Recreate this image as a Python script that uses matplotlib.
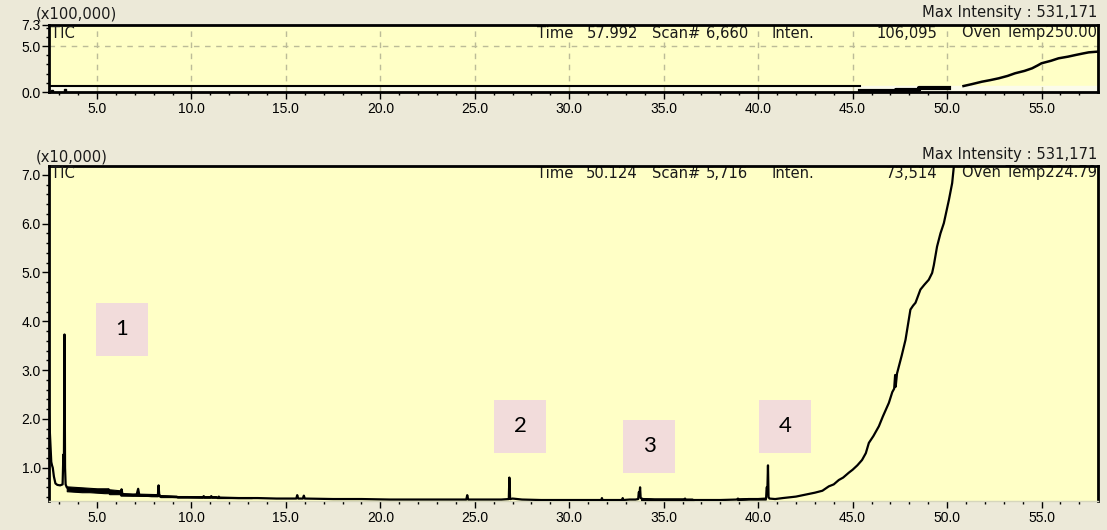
import matplotlib.pyplot as plt
from matplotlib.patches import Rectangle
from matplotlib.ticker import MultipleLocator, FixedLocator

plt.rcParams['font.family'] = ['Liberation Sans', 'DejaVu Sans']

W, H = 1107, 530

# TIC trace, retention time (min) vs intensity (x10,000)
main_time = [
    2.46, 2.52, 2.58, 2.62, 2.66, 2.72, 2.80, 2.90, 3.05, 3.18, 3.22, 3.25, 3.28, 3.31, 3.34, 3.40,
    3.50, 3.70, 3.90, 4.10, 4.30, 4.50, 4.70, 4.90, 5.10, 5.30, 5.50,
    5.60, 5.70, 5.85, 6.00, 6.15, 6.25, 6.30, 6.35, 6.60, 6.90, 7.10, 7.18, 7.24, 7.50, 7.90, 8.22,
    8.26, 8.30, 8.70, 9.20, 9.80, 10.60, 10.65, 10.70, 11.00, 11.05, 11.10, 11.40, 11.45, 11.50,
    12.50, 13.50, 14.50, 15.55, 15.60, 15.65, 15.90, 15.95, 16.00, 17.50, 19.00, 20.50, 22.00,
    23.50, 24.55, 24.60, 24.65, 25.50, 26.40, 26.80, 26.83, 26.87, 27.00, 27.50, 28.50, 29.50,
    30.50, 31.70, 31.73, 31.76, 32.80, 32.83, 32.86, 33.20, 33.50, 33.65, 33.68, 33.72, 33.75,
    33.78, 33.90, 34.50, 35.50, 36.10, 36.13, 36.16, 37.00, 38.00, 38.90, 38.93, 38.96, 39.50,
    40.00, 40.42, 40.45, 40.49, 40.52, 40.55, 40.60, 40.90, 41.30, 42.00, 42.50, 43.00, 43.40,
    43.74, 44.00, 44.27, 44.50, 44.80, 45.00, 45.25, 45.50, 45.70, 45.86, 46.10, 46.39, 46.60,
    46.92, 47.10, 47.20, 47.25, 47.28, 47.35, 47.60, 47.80, 48.06, 48.20, 48.33, 48.59, 48.80,
    49.03, 49.21, 49.30, 49.47, 49.65, 49.83, 50.10, 50.27, 50.36, 50.42,
]
main_inten = [
    2.10, 1.60, 1.12, 1.05, 1.00, 0.82, 0.68, 0.65, 0.64, 0.66, 1.27, 1.10, 3.73, 1.00, 0.66, 0.60,
    0.57, 0.56, 0.55, 0.55, 0.54, 0.54, 0.53, 0.53, 0.52, 0.52, 0.51,
    0.55, 0.50, 0.51, 0.49, 0.50, 0.47, 0.56, 0.46, 0.45, 0.44, 0.45, 0.57, 0.44, 0.43, 0.42, 0.42,
    0.64, 0.42, 0.41, 0.40, 0.40, 0.39, 0.42, 0.39, 0.39, 0.42, 0.39, 0.39, 0.41, 0.39,
    0.38, 0.38, 0.37, 0.37, 0.44, 0.37, 0.37, 0.43, 0.37, 0.36, 0.36, 0.35, 0.35,
    0.35, 0.35, 0.44, 0.35, 0.35, 0.35, 0.36, 0.80, 0.36, 0.37, 0.35, 0.34, 0.34,
    0.34, 0.34, 0.38, 0.34, 0.34, 0.38, 0.34, 0.35, 0.35, 0.36, 0.50, 0.48, 0.60,
    0.38, 0.36, 0.35, 0.35, 0.35, 0.37, 0.34, 0.34, 0.34, 0.35, 0.37, 0.35, 0.36,
    0.36, 0.37, 0.60, 0.58, 1.05, 0.40, 0.37, 0.36, 0.38, 0.41, 0.45, 0.49, 0.53,
    0.62, 0.66, 0.75, 0.80, 0.90, 0.96, 1.05, 1.16, 1.30, 1.51, 1.65, 1.85, 2.05,
    2.33, 2.55, 2.62, 2.90, 2.66, 2.93, 3.30, 3.62, 4.24, 4.32, 4.38, 4.65, 4.75,
    4.85, 4.99, 5.15, 5.53, 5.80, 6.01, 6.49, 6.83, 7.17, 7.40,
]

# noise envelope of the baseline (x10,000)
noise_time = [3.40, 3.80, 4.20, 4.60, 5.00, 5.40, 5.60, 5.65, 6.20, 6.25, 8.30, 8.35, 9.2,
              9.25, 11.3, 11.35, 13.2]
noise_low = [0.52, 0.51, 0.50, 0.50, 0.49, 0.48, 0.48, 0.46, 0.46, 0.43, 0.42, 0.40, 0.40,
             0.39, 0.39, 0.38, 0.38]
noise_high = [0.62, 0.61, 0.60, 0.59, 0.58, 0.58, 0.58, 0.56, 0.54, 0.48, 0.46, 0.44, 0.43,
              0.42, 0.42, 0.40, 0.40]
noise2_time = [33.8, 34.5, 35.5, 36.5, 36.6]
noise2_low = [0.34, 0.34, 0.34, 0.34, 0.34]
noise2_high = [0.38, 0.37, 0.37, 0.37, 0.35]
noise3_time = [38.9, 39.5, 40.3, 40.4]
noise3_low = [0.34, 0.35, 0.35, 0.35]
noise3_high = [0.37, 0.38, 0.38, 0.37]

# overview trace (x100,000)
ov_flat_time = [2.46, 45.4]
ov_flat_inten = [0.65, 0.65]
ov_step_time = [45.4, 47.3, 47.3, 48.5, 48.5, 50.1]
ov_step_inten = [0.15, 0.15, 0.25, 0.25, 0.48, 0.48]
ov_rise_time = [50.87, 51.3, 51.84, 52.3, 52.73, 53.2, 53.6, 54.1, 54.5, 54.8, 55.0, 55.5,
                55.9, 56.4, 56.8, 57.2, 57.5, 57.99]
ov_rise_inten = [0.65, 0.85, 1.12, 1.30, 1.49, 1.75, 2.04, 2.30, 2.58, 2.90, 3.13, 3.40,
                 3.67, 3.85, 4.03, 4.20, 4.32, 4.40]
ov_dot_time = [2.6, 3.3]
ov_dot_inten = [0.14, 0.22]

# peak labels
label_text = ['1', '2', '3', '4']
label_time = [6.32, 27.41, 34.23, 41.42]
label_inten = [3.84, 1.85, 1.44, 1.85]

top_info = ['Time', '57.992', 'Scan#', '6,660', 'Inten.', '106,095', 'Oven Temp250.00']
main_info = ['Time', '50.124', 'Scan#', '5,716', 'Inten.', '73,514', 'Oven Temp224.79']
max_label = 'Max Intensity : 531,171'

BG = '#ece9d8'
FACE = '#ffffc6'
GRID = '#bcbc98'
FS = 10
HFONT = dict(fontsize=10.6, family=['DejaVu Sans'], color='#1a1a1a')


def px(x, y):
    return x / W, 1 - y / H


def style_axes(ax):
    ax.set_facecolor(FACE)
    ax.set_xlim(2.46, 57.99)
    ax.xaxis.set_major_locator(MultipleLocator(5))
    ax.xaxis.set_minor_locator(MultipleLocator(1))
    ax.xaxis.set_major_formatter(lambda v, p: f'{v:.1f}')
    ax.tick_params(which='major', direction='out', length=5, width=1, labelsize=FS, pad=2)
    ax.tick_params(which='minor', direction='out', length=2.5, width=1)
    ax.tick_params(axis='y', pad=1)
    for side in ['left', 'top', 'right']:
        ax.spines[side].set_linewidth(2)
        ax.spines[side].set_color('black')


def put_info(ax, items, y, xs, aligns, box=False):
    for s, x, ha in zip(items, xs, aligns):
        kw = dict(HFONT)
        if box:
            kw['bbox'] = dict(facecolor=FACE, edgecolor='none', pad=0.3)
        ax.text(*px(x, y), s, ha=ha, va='center', transform=fig.transFigure,
                zorder=2, clip_on=False, **kw)


fig = plt.figure(figsize=(W / 100, H / 100), dpi=100, facecolor=BG)

# overview panel
ax_top = fig.add_axes([*px(49, 92), 1049 / W, 67 / H])
style_axes(ax_top)
ax_top.set_ylim(0, 7.3)
ax_top.yaxis.set_major_locator(FixedLocator([0.0, 5.0, 7.3]))
ax_top.yaxis.set_minor_locator(MultipleLocator(1))
ax_top.yaxis.set_major_formatter(lambda v, p: f'{v:.1f}')
ax_top.spines['bottom'].set_linewidth(2)
ax_top.axhspan(0, 0.65, color='#fbfbea', zorder=0)
for t in range(5, 60, 5):
    ax_top.axvline(t, color=GRID, lw=1, ls=(0, (4, 4)), zorder=1)
ax_top.axhline(5.0, color=GRID, lw=1, ls=(0, (4, 4)), zorder=1)
ax_top.plot(ov_flat_time, ov_flat_inten, color='black', lw=1.5, zorder=3)
ax_top.plot(ov_step_time, ov_step_inten, color='black', lw=3, zorder=3)
ax_top.plot(ov_rise_time, ov_rise_inten, color='black', lw=1.8, zorder=3)
ax_top.plot(ov_dot_time, ov_dot_inten, 's', color='black', ms=1.5, zorder=3)

# zoomed panel
ax = fig.add_axes([*px(49, 501), 1049 / W, 335 / H])
style_axes(ax)
ax.set_ylim(0.32, 7.18)
ax.yaxis.set_major_locator(MultipleLocator(1))
ax.yaxis.set_minor_locator(MultipleLocator(0.2))
ax.yaxis.set_major_formatter(lambda v, p: f'{v:.1f}')
ax.spines['bottom'].set_color('#d6d6bc')
ax.spines['bottom'].set_linewidth(1)
ax.plot(main_time, main_inten, color='black', lw=1.6, zorder=3)
for nt, lo, hi in [(noise_time, noise_low, noise_high),
                   (noise2_time, noise2_low, noise2_high),
                   (noise3_time, noise3_low, noise3_high)]:
    ax.fill_between(nt, lo, hi, color='black', lw=0.8, zorder=3)

bw, bh = 52 / 18.92, 53 / 48.8
for s, t, v in zip(label_text, label_time, label_inten):
    ax.add_patch(Rectangle((t - bw / 2, v - bh / 2), bw, bh, facecolor='#f2dcdb',
                           edgecolor='none', zorder=4))
    ax.text(t, v, s, ha='center', va='center', fontsize=16, family=['Lato', 'DejaVu Sans'],
            color='black', zorder=5)

# header texts
xs = [537, 638, 652, 748, 772, 937, 1097]
aligns = ['left', 'right', 'left', 'right', 'left', 'right', 'right']
put_info(ax_top, top_info, 33, xs, aligns, box=True)
put_info(ax, main_info, 173, xs, aligns)
fig.text(*px(51, 33), 'TIC', ha='left', va='center', **HFONT)
fig.text(*px(51, 173), 'TIC', ha='left', va='center', **HFONT)
fig.text(*px(1097, 13), max_label, ha='right', va='center', **HFONT)
fig.text(*px(1097, 155), max_label, ha='right', va='center', **HFONT)
fig.text(*px(36, 14), '(x100,000)', ha='left', va='center', **HFONT)
fig.text(*px(36, 157), '(x10,000)', ha='left', va='center', **HFONT)

fig.savefig('out.png', dpi=100, facecolor=BG)
